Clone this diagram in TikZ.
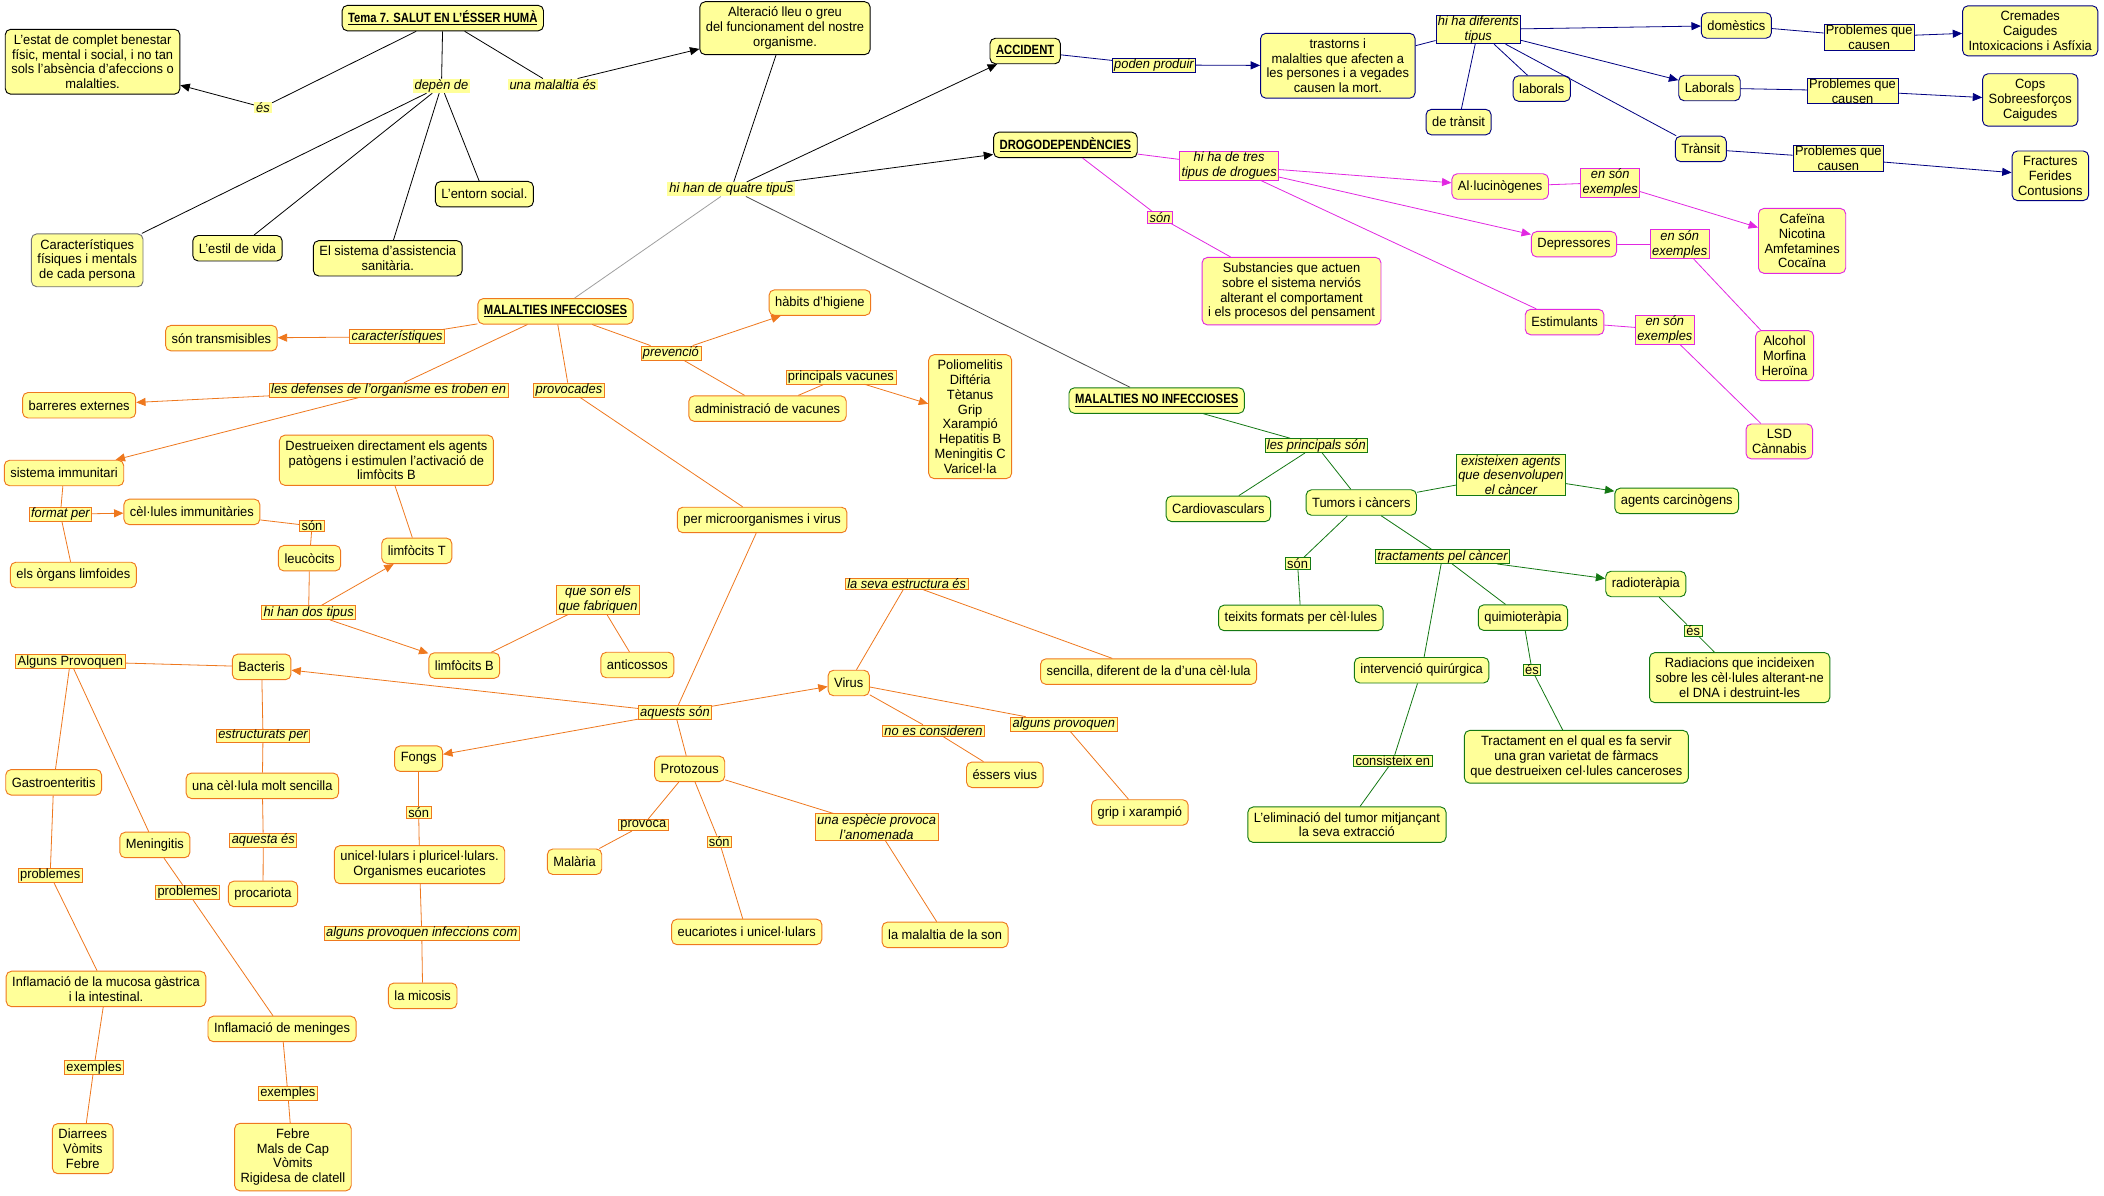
\documentclass[tikz,border=0pt]{standalone}
\usepackage{fontspec}
\setmainfont{Liberation Sans}[FakeStretch=0.96,BoldFeatures={FakeStretch=0.84}]
\usetikzlibrary{arrows.meta}
\definecolor{cyel}{RGB}{255,255,153}
\definecolor{navyc}{RGB}{0,0,128}
\definecolor{magc}{RGB}{225,40,225}
\definecolor{orngc}{RGB}{238,120,30}
\definecolor{grnc}{RGB}{20,120,20}
\newcommand\cmfs{\fontsize{10}{11}\selectfont}
\begin{document}
\begin{tikzpicture}[x=1pt,y=-1pt,
 bx/.style={rounded corners=4pt, fill=cyel, line width=0.7pt, align=center, inner xsep=4.5pt, inner ysep=4pt, minimum height=19pt, font=\cmfs},
 bxk/.style={bx,draw=black},
 bxg/.style={bx,draw=grnc},
 bxn/.style={bx,draw=navyc},
 bxm/.style={bx,draw=magc},
 bxo/.style={bx,draw=orngc},
 tl/.style={fill=cyel, inner xsep=1.5pt, inner ysep=0.5pt, align=center, font=\cmfs\itshape, line width=0.5pt},
 tlk/.style={tl},
 tln/.style={tl,draw=navyc},
 tlm/.style={tl,draw=magc},
 tlo/.style={tl,draw=orngc},
 tlg/.style={tl,draw=grnc},
 tup/.style={font=\cmfs},
 lnk/.style={draw=black, line width=0.6pt},
 lnn/.style={draw=navyc, line width=0.6pt},
 lnm/.style={draw=magc, line width=0.6pt},
 lno/.style={draw=orngc, line width=0.6pt},
 lng/.style={draw=grnc, line width=0.6pt},
 arw/.style={-{Triangle[length=7pt,width=6pt]}},
]
\useasboundingbox (0,0) rectangle (1568,891);

% ---------- black / top ----------
\node[bxk] (title) at (330,13.5) {\underline{\textbf{Tema 7. SALUT EN L'ÉSSER HUMÀ}}};
\node[bxk] (estat) at (69,46) {L'estat de complet benestar\\físic, mental i social, i no tan\\sols l'absència d'afeccions o\\malalties.};
\node[tlk] (es1) at (196,80) {és};
\node[tlk] (depen) at (329,64) {depèn de};
\node[tlk] (unamal) at (412,63) {una malaltia és};
\node[bx,draw=black!55] (caract) at (65,194) {Característiques\\físiques i mentals\\de cada persona};
\node[bxk] (estil) at (177,185) {L'estil de vida};
\node[bxk] (sistema) at (289,192.5) {El sistema d'assistencia\\sanitària.};
\node[bxk] (entorn) at (361,144.7) {L'entorn social.};
\node[bxk] (alter) at (585,21) {Alteració lleu o greu\\del funcionament del nostre\\organisme.};
\node[tlk] (quatre) at (545,141) {hi han de quatre tipus};
\node[bxk] (accident) at (764,38) {\underline{\textbf{ACCIDENT}}};
\node[bxk] (drogo) at (794,108) {\underline{\textbf{DROGODEPENDÈNCIES}}};
\node[bxo] (mi) at (414,232) {\underline{\textbf{MALALTIES INFECCIOSES}}};
\node[bxg] (mni) at (862,298.5) {\underline{\textbf{MALALTIES NO INFECCIOSES}}};

% ---------- navy ----------
\node[tln] (poden) at (860,48.4) {poden produir};
\node[bxn] (trast) at (997,49) {trastorns i\\malalties que afecten a\\les persones i a vegades\\causen la mort.};
\node[tln] (difer) at (1101.7,22) {hi ha diferents\\tipus};
\node[bxn] (domes) at (1294,19) {domèstics};
\node[tln,tup] (prob1) at (1393,27.5) {Problemes que\\causen};
\node[bxn] (cremades) at (1513,23) {Cremades\\Caigudes\\Intoxicacions i Asfíxia};
\node[bxn] (laborals) at (1149,66) {laborals};
\node[bxn] (transit1) at (1087,91) {de trànsit};
\node[bxn] (lab2) at (1274,65.6) {Laborals};
\node[tln,tup] (prob2) at (1380.6,67.7) {Problemes que\\causen};
\node[bxn] (cops) at (1513,74.5) {Cops\\Sobreesforços\\Caigudes};
\node[bxn] (transit2) at (1267.5,111) {Trànsit};
\node[tln,tup] (prob3) at (1370,118) {Problemes que\\causen};
\node[bxn] (fract) at (1528,131) {Fractures\\Ferides\\Contusions};

% ---------- magenta ----------
\node[tlm] (tres) at (916,123.5) {hi ha de tres\\tipus de drogues};
\node[tlm] (sonm) at (864.5,162) {són};
\node[bxm] (subst) at (962.5,217) {Substancies que actuen\\sobre el sistema nerviós\\alterant el comportament\\i els procesos del pensament};
\node[bxm] (allu) at (1118,139) {Al·lucinògenes};
\node[tlm] (ex1) at (1200,136) {en són\\exemples};
\node[bxm] (cafe) at (1343,179.5) {Cafeïna\\Nicotina\\Amfetamines\\Cocaïna};
\node[bxm] (depr) at (1173,182) {Depressores};
\node[tlm] (ex2) at (1251.8,182) {en són\\exemples};
\node[bxm] (alco) at (1330,265) {Alcohol\\Morfina\\Heroïna};
\node[bxm] (estim) at (1166,240) {Estimulants};
\node[tlm] (ex3) at (1240.7,245.7) {en són\\exemples};
\node[bxm] (lsd) at (1326,329) {LSD\\Cànnabis};

% ---------- orange ----------
\node[bxo] (transm) at (165,252) {són transmisibles};
\node[tlo] (caracl) at (296,251) {característiques};
\node[tlo] (defen) at (289.6,290.6) {les defenses de l'organisme es troben en};
\node[tlo] (provoc) at (424,290.6) {provocades};
\node[tlo] (preven) at (500,263) {prevenció};
\node[bxo] (habits) at (611,225.5) {hàbits d'higiene};
\node[bxo] (admin) at (572,304.5) {administració de vacunes};
\node[tlo,tup] (princ) at (626.7,281) {principals vacunes};
\node[bxo] (polio) at (723,310.5) {Poliomelitis\\Diftéria\\Tètanus\\Grip\\Xarampió\\Hepatitis B\\Meningitis C\\Varicel·la};
\node[bxo] (barr) at (59,302) {barreres externes};
\node[bxo] (simm) at (47.7,352.5) {sistema immunitari};
\node[tlo] (format) at (45,383.3) {format per};
\node[bxo] (celim) at (143,381.5) {cèl·lules immunitàries};
\node[tlo,tup] (sono1) at (232.5,392) {són};
\node[bxo] (limfo) at (54.7,428.5) {els òrgans limfoides};
\node[bxo] (destr) at (288,343) {Destrueixen directament els agents\\patògens i estimulen l'activació de\\limfòcits B};
\node[bxo] (leuco) at (230.7,416) {leucòcits};
\node[bxo] (limT) at (310.6,410.5) {limfòcits T};
\node[tlo] (dos) at (230,456.6) {hi han dos tipus};
\node[tlo] (fabr) at (445.7,447) {que son els\\que fabriquen};
\node[bxo] (limB) at (346,496) {limfòcits B};
\node[bxo] (antic) at (475,495.6) {anticossos};
\node[bxo] (microorg) at (568,387.5) {per microorganismes i virus};
\node[tlo] (aquests) at (503,531) {aquests són};
\node[tlo,tup] (algP) at (52.4,493) {Alguns Provoquen};
\node[bxo] (bact) at (195,497) {Bacteris};
\node[tlo] (estr) at (196,548.5) {estructurats per};
\node[bxo] (fongs) at (312,565.4) {Fongs};
\node[bxo] (proto) at (514,573) {Protozous};
\node[bxo] (gastro) at (40,583) {Gastroenteritis};
\node[bxo] (cell) at (195.5,585.6) {una cèl·lula molt sencilla};
\node[bxo] (virus) at (632.5,509) {Virus};
\node[tlo] (estruc) at (675.7,435) {la seva estructura és};
\node[bxo] (sencilla) at (856,500.5) {sencilla, diferent de la d'una cèl·lula};
\node[tlo] (nocons) at (695.7,544.5) {no es consideren};
\node[tlo] (algprov) at (792.8,539.5) {alguns provoquen};
\node[bxo] (essers) at (748.8,577.4) {éssers vius};
\node[bxo] (grip) at (849.5,605.5) {grip i xarampió};
\node[tlo,tup] (proba) at (37.4,652.1) {problemes};
\node[bxo] (mening) at (115.4,629.7) {Meningitis};
\node[tlo,tup] (probb) at (139.8,664.8) {problemes};
\node[tlo] (aquesta) at (196.2,626) {aquesta és};
\node[bxo] (procar) at (196,666.2) {procariota};
\node[tlo,tup] (sono2) at (312,605.4) {són};
\node[bxo] (unicel) at (312.7,644.4) {unicel·lulars i pluricel·lulars.\\Organismes eucariotes};
\node[tlo] (alginf) at (314.3,695.6) {alguns provoquen infeccions com};
\node[bxo] (micosis) at (315,742.1) {la micosis};
\node[tlo,tup] (provoca) at (479.4,614.8) {provoca};
\node[bxo] (malaria) at (428.2,642.2) {Malària};
\node[tlo,tup] (sono3) at (536,627.2) {són};
\node[bxo] (eucar) at (556.5,694.5) {eucariotes i unicel·lulars};
\node[tlo] (especie) at (653.3,616.2) {una espècie provoca\\l'anomenada};
\node[bxo] (sonmal) at (704.3,696.7) {la malaltia de la son};
\node[bxo] (inflg) at (79,737) {Inflamació de la mucosa gàstrica\\i la intestinal.};
\node[tlo,tup] (exo1) at (70,795.7) {exemples};
\node[bxo] (inflm) at (210.2,766.8) {Inflamació de meninges};
\node[tlo,tup] (exo2) at (214.5,814.8) {exemples};
\node[bxo] (diarr) at (61.7,856) {Diarrees\\Vòmits\\Febre};
\node[bxo] (febre) at (218.3,862.3) {Febre\\Mals de Cap\\Vòmits\\Rigidesa de clatell};

% ---------- green ----------
\node[tlg] (princg) at (981,332.1) {les principals són};
\node[bxg] (cardio) at (908,379.2) {Cardiovasculars};
\node[bxg] (tumors) at (1014.5,374.5) {Tumors i càncers};
\node[tlg] (exist) at (1126,354) {existeixen agents\\que desenvolupen\\el càncer};
\node[bxg] (carcin) at (1249.6,373.3) {agents carcinògens};
\node[tlg,tup] (song) at (967,419.8) {són};
\node[bxg] (teixits) at (969.5,460.5) {teixits formats per cèl·lules};
\node[tlg] (tract) at (1075,414.8) {tractaments pel càncer};
\node[bxg] (radio) at (1226.5,435.2) {radioteràpia};
\node[bxg] (quimio) at (1135,460.3) {quimioteràpia};
\node[tlg,tup] (esg1) at (1261.8,470) {és};
\node[tlg,tup] (esg2) at (1141.7,499.3) {és};
\node[bxg] (radiac) at (1296.5,505) {Radiacions que incideixen\\sobre les cèl·lules alterant-ne\\el DNA i destruint-les};
\node[bxg] (tractam) at (1174.8,564) {Tractament en el qual es fa servir\\una gran varietat de fàrmacs\\que destrueixen cel·lules canceroses};
\node[bxg] (interv) at (1059.5,499.5) {intervenció quirúrgica};
\node[tlg,tup] (consist) at (1038,567) {consisteix en};
\node[bxg] (elim) at (1003.8,614.6) {L'eliminació del tumor mitjançant\\la seva extracció};

% ---------- connectors: black ----------
\draw[lnk] (title) -- (es1);
\draw[lnk,arw] (es1) -- (estat);
\draw[lnk] (title) -- (depen);
\draw[lnk] (depen) -- (caract);
\draw[lnk] (depen) -- (estil);
\draw[lnk] (depen) -- (sistema);
\draw[lnk] (depen) -- (entorn);
\draw[lnk] (title) -- (unamal);
\draw[lnk,arw] (unamal) -- (alter);
\draw[lnk] (alter) -- (quatre);
\draw[lnk,arw] (quatre) -- (accident);
\draw[lnk,arw] (quatre) -- (drogo);
\draw[draw=gray!75, line width=0.6pt] (quatre) -- (mi);
\draw[draw=black!70, line width=0.6pt] (quatre) -- (mni);

% ---------- connectors: navy ----------
\draw[lnn] (accident) -- (poden);
\draw[lnn,arw] (poden) -- (trast);
\draw[lnn] (trast) -- (difer);
\draw[lnn,arw] (difer) -- (domes);
\draw[lnn,arw] (difer) -- (lab2);
\draw[lnn] (difer) -- (laborals);
\draw[lnn] (difer) -- (transit1);
\draw[lnn] (difer) -- (transit2);
\draw[lnn] (domes) -- (prob1);
\draw[lnn,arw] (prob1) -- (cremades);
\draw[lnn] (lab2) -- (prob2);
\draw[lnn,arw] (prob2) -- (cops);
\draw[lnn] (transit2) -- (prob3);
\draw[lnn,arw] (prob3) -- (fract);

% ---------- connectors: magenta ----------
\draw[lnm] (drogo) -- (tres);
\draw[lnm,arw] (tres) -- (allu);
\draw[lnm,arw] (tres) -- (depr);
\draw[lnm] (tres) -- (estim);
\draw[lnm] (drogo) -- (sonm);
\draw[lnm] (sonm) -- (subst);
\draw[lnm] (allu) -- (ex1);
\draw[lnm,arw] (ex1) -- (cafe);
\draw[lnm] (depr) -- (ex2);
\draw[lnm] (ex2) -- (alco);
\draw[lnm] (estim) -- (ex3);
\draw[lnm] (ex3) -- (lsd);

% ---------- connectors: orange ----------
\draw[lno] (mi) -- (caracl);
\draw[lno,arw] (caracl) -- (transm);
\draw[lno] (mi) -- (defen);
\draw[lno,arw] (defen) -- (barr);
\draw[lno,arw] (defen) -- (simm);
\draw[lno] (mi) -- (provoc);
\draw[lno] (provoc) -- (microorg);
\draw[lno] (mi) -- (preven);
\draw[lno,arw] (preven) -- (habits);
\draw[lno] (preven) -- (admin);
\draw[lno] (admin) -- (princ);
\draw[lno,arw] (princ) -- (polio);
\draw[lno] (simm) -- (format);
\draw[lno,arw] (format) -- (celim);
\draw[lno] (format) -- (limfo);
\draw[lno] (celim) -- (sono1);
\draw[lno] (sono1) -- (leuco);
\draw[lno] (leuco) -- (dos);
\draw[lno,arw] (dos) -- (limT);
\draw[lno,arw] (dos) -- (limB);
\draw[lno] (limT) -- (destr);
\draw[lno] (limB) -- (fabr);
\draw[lno] (fabr) -- (antic);
\draw[lno] (microorg) -- (aquests);
\draw[lno,arw] (aquests) -- (bact);
\draw[lno,arw] (aquests) -- (fongs);
\draw[lno,arw] (aquests) -- (virus);
\draw[lno] (aquests) -- (proto);
\draw[lno] (bact) -- (algP);
\draw[lno] (algP) -- (gastro);
\draw[lno] (algP) -- (mening);
\draw[lno] (bact) -- (estr);
\draw[lno] (estr) -- (cell);
\draw[lno] (cell) -- (aquesta);
\draw[lno] (aquesta) -- (procar);
\draw[lno] (gastro) -- (proba);
\draw[lno] (proba) -- (inflg);
\draw[lno] (inflg) -- (exo1);
\draw[lno] (exo1) -- (diarr);
\draw[lno] (mening) -- (probb);
\draw[lno] (probb) -- (inflm);
\draw[lno] (inflm) -- (exo2);
\draw[lno] (exo2) -- (febre);
\draw[lno] (fongs) -- (sono2);
\draw[lno] (sono2) -- (unicel);
\draw[lno] (unicel) -- (alginf);
\draw[lno] (alginf) -- (micosis);
\draw[lno] (proto) -- (provoca);
\draw[lno] (provoca) -- (malaria);
\draw[lno] (proto) -- (sono3);
\draw[lno] (sono3) -- (eucar);
\draw[lno] (proto) -- (especie);
\draw[lno] (especie) -- (sonmal);
\draw[lno] (virus) -- (estruc);
\draw[lno] (estruc) -- (sencilla);
\draw[lno] (virus) -- (nocons);
\draw[lno] (nocons) -- (essers);
\draw[lno] (virus) -- (algprov);
\draw[lno] (algprov) -- (grip);

% ---------- connectors: green ----------
\draw[lng] (mni) -- (princg);
\draw[lng] (princg) -- (cardio);
\draw[lng] (princg) -- (tumors);
\draw[lng] (tumors) -- (exist);
\draw[lng,arw] (exist) -- (carcin);
\draw[lng] (tumors) -- (song);
\draw[lng] (song) -- (teixits);
\draw[lng] (tumors) -- (tract);
\draw[lng,arw] (tract) -- (radio);
\draw[lng] (tract) -- (quimio);
\draw[lng] (tract) -- (interv);
\draw[lng] (radio) -- (esg1);
\draw[lng] (esg1) -- (radiac);
\draw[lng] (quimio) -- (esg2);
\draw[lng] (esg2) -- (tractam);
\draw[lng] (interv) -- (consist);
\draw[lng] (consist) -- (elim);
\end{tikzpicture}
\end{document}
